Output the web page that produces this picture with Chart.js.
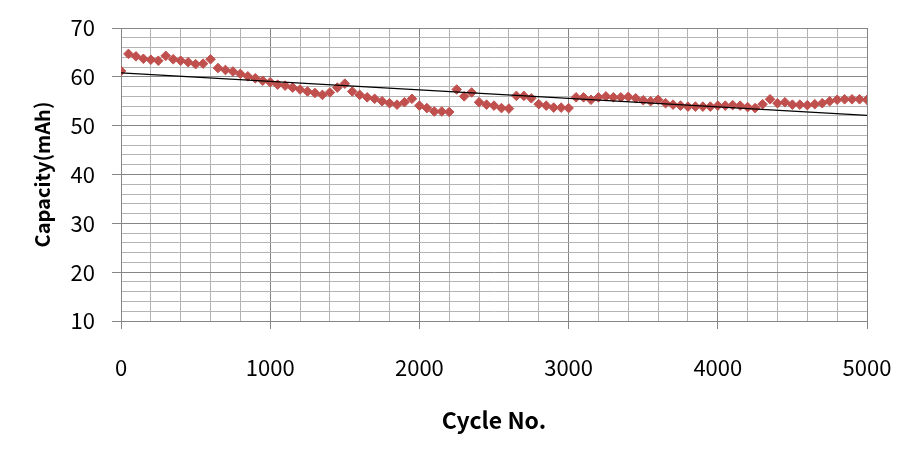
<!DOCTYPE html>
<html>
<head>
<meta charset="utf-8">
<script src="https://cdn.jsdelivr.net/npm/chart.js@4/dist/chart.umd.min.js"></script>
<style>
  html, body { margin: 0; padding: 0; background: #ffffff; }
  #wrap { width: 910px; height: 455px; position: relative; }
</style>
</head>
<body>
<div id="wrap"><canvas id="c" width="910" height="455"></canvas></div>
<script>
const cycles = [0, 50, 100, 150, 200, 250, 300, 350, 400, 450, 500, 550, 600, 650, 700, 750, 800, 850, 900, 950,
  1000, 1050, 1100, 1150, 1200, 1250, 1300, 1350, 1400, 1450, 1500, 1550, 1600, 1650, 1700, 1750, 1800, 1850, 1900, 1950,
  2000, 2050, 2100, 2150, 2200, 2250, 2300, 2350, 2400, 2450, 2500, 2550, 2600, 2650, 2700, 2750, 2800, 2850, 2900, 2950,
  3000, 3050, 3100, 3150, 3200, 3250, 3300, 3350, 3400, 3450, 3500, 3550, 3600, 3650, 3700, 3750, 3800, 3850, 3900, 3950,
  4000, 4050, 4100, 4150, 4200, 4250, 4300, 4350, 4400, 4450, 4500, 4550, 4600, 4650, 4700, 4750, 4800, 4850, 4900, 4950,
  5000];
const capacity = [61.2, 64.7, 64.2, 63.7, 63.5, 63.3, 64.3, 63.6, 63.3, 63.0, 62.6, 62.7, 63.6, 61.8, 61.4, 61.1, 60.6, 60.1, 59.7, 59.2,
  58.9, 58.4, 58.2, 57.8, 57.4, 57.0, 56.7, 56.3, 56.8, 57.8, 58.6, 57.0, 56.3, 55.8, 55.5, 55.0, 54.6, 54.3, 54.8, 55.5,
  54.1, 53.6, 52.9, 52.9, 52.8, 57.4, 56.0, 56.8, 54.8, 54.3, 54.1, 53.6, 53.5, 56.1, 56.1, 55.6, 54.4, 54.1, 53.7, 53.7,
  53.6, 55.8, 55.8, 55.3, 55.8, 56.0, 55.8, 55.8, 55.9, 55.6, 55.2, 55.0, 55.3, 54.6, 54.3, 54.1, 53.9, 53.9, 53.9, 53.9,
  54.1, 54.1, 54.2, 54.1, 53.8, 53.6, 54.4, 55.4, 54.6, 54.8, 54.3, 54.3, 54.2, 54.4, 54.6, 55.0, 55.3, 55.4, 55.4, 55.4,
  55.3];
const trendCycles = [0, 5000];
const trendCapacity = [60.8, 52.1];
const xTickLabels = ['0', '1000', '2000', '3000', '4000', '5000'];
const yTickLabels = ['10', '20', '30', '40', '50', '60', '70'];

const FONT = "'Noto Sans CJK KR', 'Noto Sans', sans-serif";
const MINOR = '#b4b4b4';
const MAJOR = '#868686';

const points = cycles.map((c, i) => ({ x: c, y: capacity[i] }));
const trend = trendCycles.map((c, i) => ({ x: c, y: trendCapacity[i] }));

function zeroPad(s) {
  s.paddingLeft = 0; s.paddingRight = 0; s.paddingTop = 0; s.paddingBottom = 0;
}

new Chart(document.getElementById('c'), {
  type: 'scatter',
  data: {
    datasets: [
      {
        label: 'Trend',
        data: trend,
        showLine: true,
        borderColor: '#000000',
        borderWidth: 1.2,
        pointRadius: 0,
        fill: false
      },
      {
        label: 'Capacity',
        data: points,
        pointStyle: 'rectRot',
        pointRadius: 4.8,
        pointBackgroundColor: '#C0504D',
        pointBorderColor: '#C0504D',
        pointBorderWidth: 1,
        showLine: false
      }
    ]
  },
  options: {
    responsive: false,
    animation: false,
    devicePixelRatio: 1,
    layout: { padding: { left: 0, right: 43, top: 28, bottom: 0 } },
    plugins: { legend: { display: false }, tooltip: { enabled: false } },
    scales: {
      x: {
        type: 'linear',
        min: 0,
        max: 5000,
        afterFit: (s) => { s.height = 134; zeroPad(s); },
        border: { display: true, color: MAJOR, width: 1 },
        grid: {
          color: (ctx) => (ctx.tick && ctx.tick.value % 1000 === 0) ? MAJOR : MINOR,
          tickColor: (ctx) => (ctx.tick && ctx.tick.value % 1000 === 0) ? MAJOR : 'rgba(0,0,0,0)',
          tickLength: 8,
          lineWidth: 1
        },
        ticks: {
          stepSize: 200,
          autoSkip: false,
          maxRotation: 0,
          padding: 25,
          color: '#000000',
          font: { family: FONT, size: 22 },
          callback: (v) => {
            const s = String(v);
            return xTickLabels.includes(s) ? s : '';
          }
        },
        title: {
          display: true,
          text: 'Cycle No.',
          color: '#000000',
          font: { family: FONT, size: 23, weight: 'bold' },
          padding: { top: 0, bottom: 21 }
        }
      },
      y: {
        type: 'linear',
        min: 10,
        max: 70,
        afterFit: (s) => { s.width = 121; zeroPad(s); },
        border: { display: true, color: MAJOR, width: 1 },
        grid: {
          color: (ctx) => (ctx.tick && ctx.tick.value % 10 === 0) ? MAJOR : MINOR,
          tickColor: (ctx) => (ctx.tick && ctx.tick.value % 10 === 0) ? MAJOR : 'rgba(0,0,0,0)',
          tickLength: 9,
          lineWidth: 1
        },
        ticks: {
          stepSize: 2,
          autoSkip: false,
          padding: 17,
          color: '#000000',
          font: { family: FONT, size: 22 },
          callback: (v) => {
            const s = String(v);
            return yTickLabels.includes(s) ? s : '';
          }
        },
        title: {
          display: true,
          text: 'Capacity(mAh)',
          color: '#000000',
          font: { family: FONT, size: 20, weight: 'bold' },
          padding: { top: 30, bottom: 0 }
        }
      }
    }
  }
});
</script>
</body>
</html>
